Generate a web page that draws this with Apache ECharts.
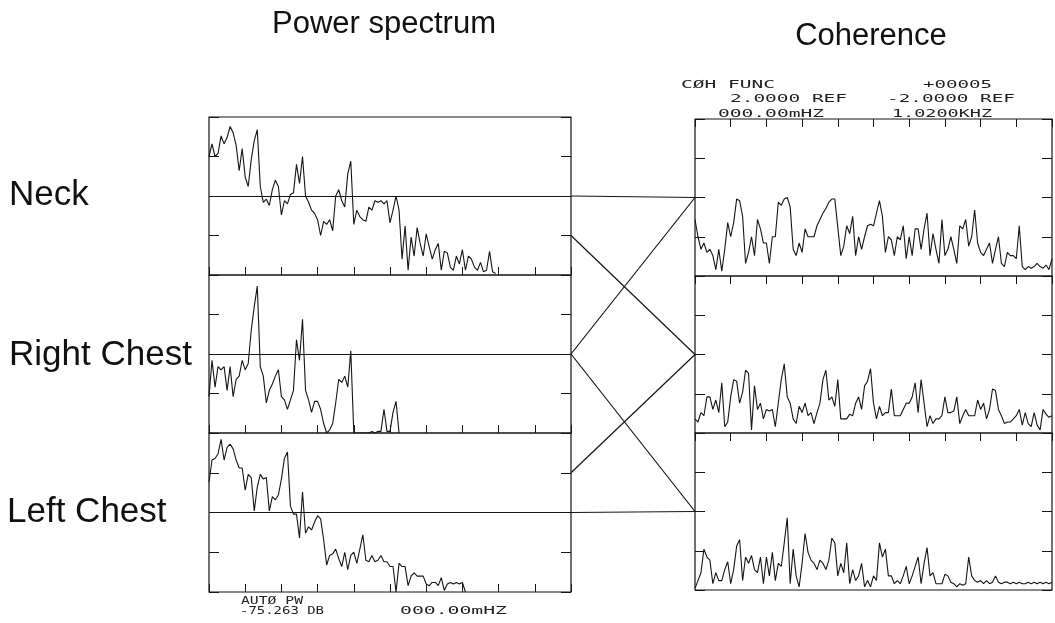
<!DOCTYPE html>
<html>
<head>
<meta charset="utf-8">
<script src="https://cdn.jsdelivr.net/npm/echarts@6/dist/echarts.min.js"></script>
<style>
html,body{margin:0;padding:0;background:#fff;}
#chart{width:1055px;height:623px;}
</style>
</head>
<body>
<div id="chart"></div>
<script>
// ---- axis definitions (frequency 000.00 mHz .. 1.0200 kHz, 10 divisions) ----
const FREQ_MAX = 1020;
const FREQ_STEP = 8.5;
const FREQ_TICK = 102;
const LEVEL_MAX = 100;
const LEVEL_TICK = 25;

// ---- power spectra (relative level, 0 = bottom of panel, 100 = top) ----
const neckPower = [75,83,75,77,88,83,87,94,90,82,
  66,80,62,56,73,85,92,56,46,48,
  44,54,60,56,38,47,45,51,52,70,
  58,75,50,46,41,39,35,25,34,32,
  35,28,50,54,47,43,64,72,32,41,
  37,35,34,43,41,47,46,47,45,47,
  33,41,50,41,10,31,3,24,12,30,
  20,12,26,18,10,16,20,3,15,14,
  5,3,12,7,16,3,12,10,5,3,
  8,2,3,15,2,1];

const rightChestPower = [23,46,29,42,40,42,27,42,23,34,
  36,46,40,44,65,80,93,42,36,19,
  27,31,36,40,23,21,15,21,27,59,
  46,72,27,21,13,20,20,15,6,0,
  2,6,19,34,32,36,29,52,0,0,
  0,0,0,0,1,0,1,1,15,1,
  1,13,20,0];

const leftChestPower = [69,83,84,87,96,83,91,93,90,83,
  78,78,64,74,72,51,66,74,71,72,
  51,60,58,61,71,84,88,54,49,49,
  34,63,37,41,39,44,48,46,33,17,
  23,24,27,21,16,25,14,23,25,18,
  27,36,20,19,23,19,20,23,19,19,
  16,16,0,18,16,16,4,10,12,10,
  10,10,5,4,6,6,4,9,1,5,
  6,5,6,5,6,0];

// ---- coherence (relative, 0 = bottom of panel, 100 = top) ----
const neckCoherence = [36,25,17,21,15,17,13,4,17,3,
  17,34,25,34,49,48,38,8,15,25,
  13,36,30,21,21,8,25,25,47,45,
  49,50,44,17,13,21,15,30,25,25,
  25,32,36,40,43,47,49,49,31,13,
  19,32,27,38,13,25,17,25,32,33,
  32,40,48,38,15,25,23,13,25,23,
  32,11,25,13,30,30,17,30,40,13,
  27,17,8,36,13,17,25,17,8,32,
  30,36,19,25,42,21,15,13,17,21,
  8,17,25,8,6,15,13,13,11,32,
  6,4,6,5,6,8,6,5,7,4,
  11];

const rightChestCoherence = [9,7,13,11,23,23,15,21,13,32,
  4,7,23,34,33,19,26,40,38,2,
  30,15,19,9,15,14,15,4,19,34,
  44,23,19,9,6,17,13,19,11,13,
  6,13,19,34,40,21,23,17,34,9,
  9,9,12,11,19,23,15,30,33,41,
  19,9,17,11,13,13,28,11,11,11,
  15,19,19,23,32,13,34,19,4,11,
  6,9,9,11,23,13,13,14,23,6,
  11,15,11,11,11,21,15,19,9,15,
  28,27,15,11,6,7,7,9,11,15,
  5,13,6,4,13,5,2,15,12,10,
  11];

const leftChestCoherence = [1,6,11,26,21,19,4,11,6,6,
  13,18,4,13,28,32,6,21,17,22,
  13,11,21,4,21,9,24,6,17,15,
  30,46,4,26,9,2,17,36,24,19,
  17,13,19,17,13,19,33,30,9,17,
  11,30,4,13,6,9,17,2,6,2,
  9,6,30,21,26,9,9,4,6,4,
  9,15,4,9,15,21,4,17,27,9,
  11,4,4,4,10,9,5,4,2,4,
  3,4,21,9,6,5,6,4,6,4,
  5,9,5,4,5,5,4,5,4,5,
  4,4,5,4,5,4,5,4,5,4,
  5];

// ---- texts ----
const panelTitles = ['Power spectrum', 'Coherence'];
const siteLabels = ['Neck', 'Right Chest', 'Left Chest'];
const cohHeader = [['CØH FUNC', '+00005'], ['2.0000 REF', '-2.0000 REF'], ['000.00mHZ', '1.0200KHZ']];
const psFooter = ['AUTØ PW', '-75.263 DB', '000.00mHZ'];

// -----------------------------------------------------------------
const INK = '#151515';
const toPairs = arr => arr.map((v, i) => [i * FREQ_STEP, v]);

const grids = [
  {left: 209, top: 117, width: 362, height: 158},
  {left: 209, top: 275, width: 362, height: 158},
  {left: 209, top: 433, width: 362, height: 159},
  {left: 695, top: 119, width: 357, height: 157},
  {left: 695, top: 276, width: 357, height: 157},
  {left: 695, top: 433, width: 357, height: 157}
].map(g => Object.assign({show: true, borderColor: INK, borderWidth: 1.2, backgroundColor: 'transparent'}, g));

const xAxes = grids.map((g, i) => ({
  type: 'value', gridIndex: i, min: 0, max: FREQ_MAX, interval: FREQ_TICK,
  position: i < 3 ? 'bottom' : 'top',
  axisLine: {show: false, onZero: false},
  axisTick: {show: true, inside: true, length: 8, lineStyle: {color: INK, width: 1}},
  axisLabel: {show: false}, splitLine: {show: false}
}));

const yAxes = [];
grids.forEach((g, i) => {
  ['left', 'right'].forEach(pos => yAxes.push({
    type: 'value', gridIndex: i, min: 0, max: LEVEL_MAX, interval: LEVEL_TICK, position: pos,
    axisLine: {show: false, onZero: false},
    axisTick: {show: true, inside: true, length: 10, lineStyle: {color: INK, width: 1}},
    axisLabel: {show: false}, splitLine: {show: false}
  }));
});

const traces = [neckPower, rightChestPower, leftChestPower, neckCoherence, rightChestCoherence, leftChestCoherence];
const series = traces.map((arr, i) => {
  const s = {
    type: 'line', xAxisIndex: i, yAxisIndex: 2 * i, data: toPairs(arr),
    showSymbol: false, symbol: 'none', silent: true,
    lineStyle: {color: INK, width: 1.1}
  };
  if (i < 3) {
    s.markLine = {
      silent: true, symbol: ['none', 'none'], label: {show: false},
      lineStyle: {color: INK, width: 1.2, type: 'solid'},
      data: [{yAxis: LEVEL_MAX / 2}]
    };
  }
  return s;
});

const chart = echarts.init(document.getElementById('chart'), null, {renderer: 'canvas'});
chart.setOption({animation: false, backgroundColor: '#fff', grid: grids, xAxis: xAxes, yAxis: yAxes, series: series});

// ---- connector lines between panels, located through the axes ----
const px = (g, x, y) => chart.convertToPixel({xAxisIndex: g, yAxisIndex: 2 * g}, [x, y]);
const links = [
  [0, LEVEL_MAX / 2, 3], [0, LEVEL_MAX / 4, 4], [1, LEVEL_MAX / 2, 3],
  [1, LEVEL_MAX / 2, 5], [2, 3 * LEVEL_MAX / 4, 4], [2, LEVEL_MAX / 2, 5]
];
const graphics = [];
links.forEach(([lg, lv, rg]) => {
  const a = px(lg, FREQ_MAX, lv);
  const b = px(rg, 0, LEVEL_MAX / 2);
  graphics.push({type: 'line', silent: true, shape: {x1: a[0], y1: a[1], x2: b[0], y2: b[1]},
    style: {stroke: INK, lineWidth: 1.2}});
});

const SANS = '"Liberation Sans", Arial, Helvetica, sans-serif';
function txt(text, x, y, size, align) {
  return {type: 'text', x: x, y: y, silent: true,
    style: {text: text, font: size + 'px ' + SANS, fill: '#111',
      textAlign: align, align: align, textVerticalAlign: 'middle', verticalAlign: 'middle'}};
}
graphics.push(txt(panelTitles[0], 384, 24, 31, 'center'));
graphics.push(txt(panelTitles[1], 871, 36, 31, 'center'));
graphics.push(txt(siteLabels[0], 9, 195, 35, 'left'));
graphics.push(txt(siteLabels[1], 9, 355, 35, 'left'));
graphics.push(txt(siteLabels[2], 7, 512, 35, 'left'));

// plotter-style annotations, stretched to the width they occupy on the plot
const MONO_SIZE = 10.5;
function plot(text, x, y, width) {
  const natural = text.length * 0.602 * MONO_SIZE;
  return {type: 'text', x: x, y: y, scaleX: width / natural, silent: true,
    style: {text: text, font: MONO_SIZE + 'px "DejaVu Sans Mono", monospace', fill: '#222',
      textAlign: 'left', align: 'left', textVerticalAlign: 'middle', verticalAlign: 'middle'}};
}
graphics.push(plot(cohHeader[0][0], 681, 85.5, 94));
graphics.push(plot(cohHeader[0][1], 923, 85.5, 69));
graphics.push(plot(cohHeader[1][0], 730, 99.5, 117));
graphics.push(plot(cohHeader[1][1], 887, 99.5, 128));
graphics.push(plot(cohHeader[2][0], 718, 114, 106));
graphics.push(plot(cohHeader[2][1], 892, 114, 100));
graphics.push(plot(psFooter[0], 241, 601, 62));
graphics.push(plot(psFooter[1], 240, 611, 84));
graphics.push(plot(psFooter[2], 400, 611, 107));

chart.setOption({graphic: graphics});
</script>
</body>
</html>
